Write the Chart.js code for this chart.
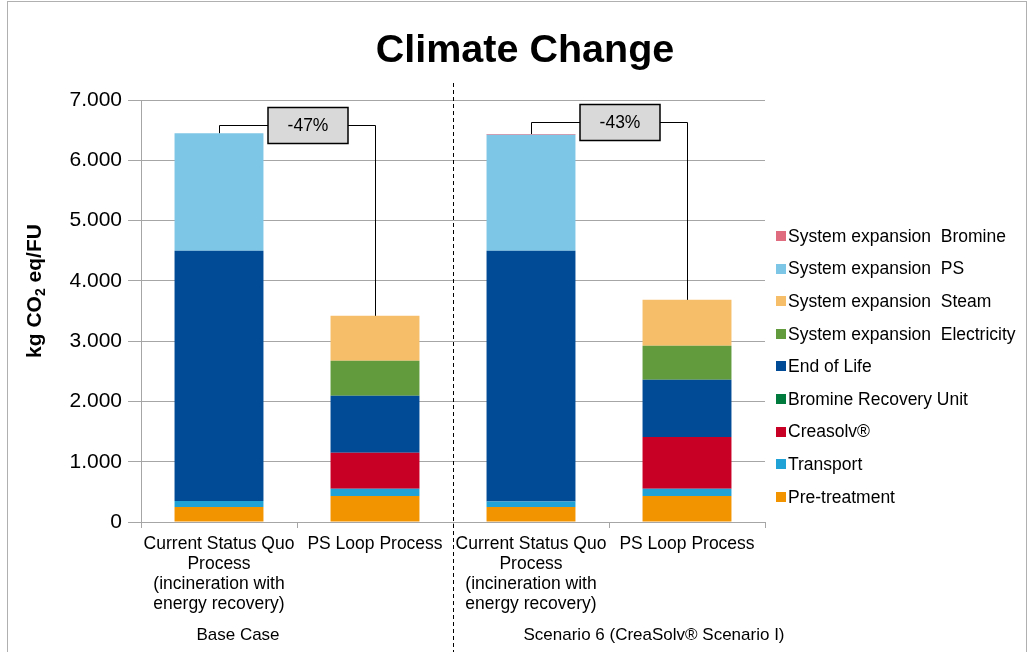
<!DOCTYPE html>
<html><head><meta charset="utf-8">
<script src="https://cdn.jsdelivr.net/npm/chart.js@4.4.1/dist/chart.umd.min.js"></script>
<style>html,body{margin:0;padding:0;background:#fff}#wrap{width:1034px;height:652px;position:relative}</style>
</head><body><div id="wrap"><canvas id="c" width="1034" height="652"></canvas></div>
<script>
const categories = [
  ['Current Status Quo', 'Process', '(incineration with', 'energy recovery)'],
  ['PS Loop Process'],
  ['Current Status Quo', 'Process', '(incineration with', 'energy recovery)'],
  ['PS Loop Process']
];
const groupLabels = ['Base Case', 'Scenario 6 (CreaSolv\u00ae Scenario I)'];
const seriesNames = ['Pre-treatment', 'Transport', 'Creasolv\u00ae', 'Bromine Recovery Unit', 'End of Life',
  'System expansion  Electricity', 'System expansion  Steam', 'System expansion  PS', 'System expansion  Bromine'];
const seriesColors = ['#f29400', '#21a2d6', '#c80025', '#007a3d', '#004a96', '#629b3e', '#f7be69', '#7ec6e6', '#e06c80'];
const preTreatment = [0.25, 0.43, 0.25, 0.43];
const transport = [0.10, 0.12, 0.09, 0.12];
const creasolv = [0, 0.60, 0, 0.86];
const bromineRecoveryUnit = [0, 0, 0, 0];
const endOfLife = [4.15, 0.945, 4.16, 0.95];
const sysExpElectricity = [0, 0.58, 0, 0.565];
const sysExpSteam = [0, 0.745, 0, 0.76];
const sysExpPS = [1.95, 0, 1.925, 0];
const sysExpBromine = [0, 0, 0.01, 0];
const yTickLabels = ['0', '1.000', '2.000', '3.000', '4.000', '5.000', '6.000', '7.000'];
const reductionLabels = ['-47%', '-43%'];
const reductionPairs = [[0, 1], [2, 3]];
const chartTitle = 'Climate Change';

const FONT = "'Liberation Sans', Arial, sans-serif";
const seriesValues = [preTreatment, transport, creasolv, bromineRecoveryUnit, endOfLife,
  sysExpElectricity, sysExpSteam, sysExpPS, sysExpBromine];

const datasets = seriesNames.map((n, i) => ({
  label: n,
  data: seriesValues[i],
  backgroundColor: seriesColors[i],
  borderWidth: 0,
  barPercentage: 0.57,
  categoryPercentage: 1.0,
  stack: 's'
}));

function stackTop(chart, idx) {
  let s = 0;
  chart.data.datasets.forEach(d => { s += d.data[idx]; });
  return s;
}

const decor = {
  id: 'decor',
  beforeDraw(chart) {
    const ctx = chart.ctx;
    ctx.save();
    ctx.fillStyle = '#fff';
    ctx.fillRect(0, 0, chart.width, chart.height);
    ctx.strokeStyle = '#b0b0b0';
    ctx.lineWidth = 1;
    ctx.strokeRect(7.5, 1.5, 1019, 660);
    ctx.restore();
  },
  afterDraw(chart) {
    const ctx = chart.ctx;
    const xs = chart.scales.x, ys = chart.scales.y;
    ctx.save();
    // Title
    ctx.fillStyle = '#000';
    ctx.font = 'bold 39.5px ' + FONT;
    ctx.textAlign = 'center';
    ctx.textBaseline = 'alphabetic';
    ctx.fillText(chartTitle, 525, 62);

    // Y axis title with subscript
    ctx.save();
    ctx.translate(41, 291);
    ctx.rotate(-Math.PI / 2);
    const big = 'bold 21px ' + FONT, small = 'bold 14px ' + FONT;
    ctx.font = big; const w1 = ctx.measureText('kg CO').width; const w3 = ctx.measureText(' eq/FU').width;
    ctx.font = small; const w2 = ctx.measureText('2').width;
    let x0 = -(w1 + w2 + w3) / 2;
    ctx.textAlign = 'left';
    ctx.font = big; ctx.fillText('kg CO', x0, 0);
    ctx.font = small; ctx.fillText('2', x0 + w1, 4);
    ctx.font = big; ctx.fillText(' eq/FU', x0 + w1 + w2, 0);
    ctx.restore();

    // Dashed separator
    const sepX = Math.round((xs.getPixelForValue(1) + xs.getPixelForValue(2)) / 2) + 0.5;
    ctx.strokeStyle = '#000';
    ctx.lineWidth = 1;
    ctx.setLineDash([4, 3]);
    ctx.beginPath(); ctx.moveTo(sepX, 83); ctx.lineTo(sepX, 652); ctx.stroke();
    ctx.setLineDash([]);

    // Reduction brackets
    const lift = [8, 12];
    reductionPairs.forEach((p, k) => {
      const xa = xs.getPixelForValue(p[0]), xb = xs.getPixelForValue(p[1]);
      const ya = ys.getPixelForValue(stackTop(chart, p[0]));
      const yb = ys.getPixelForValue(stackTop(chart, p[1]));
      const lvl = Math.round(Math.min(ya, yb) - lift[k]) + 0.5;
      const bw = 80, bh = 36;
      const cx = (xa + xb) / 2 + 11;
      ctx.strokeStyle = '#000'; ctx.lineWidth = 1;
      ctx.beginPath();
      ctx.moveTo(Math.round(xa) + 0.5, ya); ctx.lineTo(Math.round(xa) + 0.5, lvl); ctx.lineTo(cx - bw / 2, lvl);
      ctx.moveTo(cx + bw / 2, lvl); ctx.lineTo(Math.round(xb) + 0.5, lvl); ctx.lineTo(Math.round(xb) + 0.5, yb);
      ctx.stroke();
      ctx.fillStyle = '#d9d9d9';
      ctx.fillRect(cx - bw / 2, lvl - bh / 2, bw, bh);
      ctx.lineWidth = 1.5;
      ctx.strokeRect(cx - bw / 2, lvl - bh / 2, bw, bh);
      ctx.fillStyle = '#000';
      ctx.font = '17.5px ' + FONT;
      ctx.textAlign = 'center'; ctx.textBaseline = 'middle';
      ctx.fillText(reductionLabels[k], cx, lvl + 1);
    });

    // Legend
    const ds = chart.data.datasets.slice().reverse();
    ctx.font = '17.5px ' + FONT;
    ctx.textAlign = 'left'; ctx.textBaseline = 'middle';
    ds.forEach((d, i) => {
      const y = 236 + i * 32.6;
      ctx.fillStyle = d.backgroundColor;
      ctx.fillRect(776, Math.round(y - 5), 10, 10);
      ctx.fillStyle = '#000';
      ctx.fillText(d.label, 788, y + 1);
    });

    // Group labels
    ctx.font = '17px ' + FONT;
    ctx.textAlign = 'center'; ctx.textBaseline = 'middle';
    ctx.fillText(groupLabels[0], xs.getPixelForValue(0) + 19, 635);
    ctx.fillText(groupLabels[1], xs.getPixelForValue(3) - 33, 635);
    ctx.restore();
  }
};

new Chart(document.getElementById('c'), {
  type: 'bar',
  data: { labels: categories, datasets },
  options: {
    responsive: false,
    animation: false,
    devicePixelRatio: 1,
    layout: { padding: { top: 100, right: 269, left: 10, bottom: 0 } },
    plugins: { legend: { display: false }, title: { display: false }, tooltip: { enabled: false } },
    scales: {
      x: {
        stacked: true,
        afterFit(s) { s.height = 130; },
        grid: { offset: true, drawOnChartArea: false, drawTicks: true, tickLength: 6, color: '#a6a6a6' },
        border: { color: '#a6a6a6', width: 1 },
        ticks: { color: '#000', font: { family: FONT, size: 17.5, lineHeight: 1.15 }, padding: 6, maxRotation: 0, autoSkip: false }
      },
      y: {
        stacked: true,
        min: 0, max: 7,
        afterFit(s) { s.width = 131; },
        afterBuildTicks(s) { s.ticks = yTickLabels.map((t, i) => ({ value: i })); },
        grid: { color: '#a6a6a6', tickLength: 13, drawTicks: true },
        border: { color: '#a6a6a6', width: 1 },
        ticks: { color: '#000', font: { family: FONT, size: 21 }, padding: 6,
          callback: (v, i) => yTickLabels[i] }
      }
    }
  },
  plugins: [decor]
});
</script></body></html>
